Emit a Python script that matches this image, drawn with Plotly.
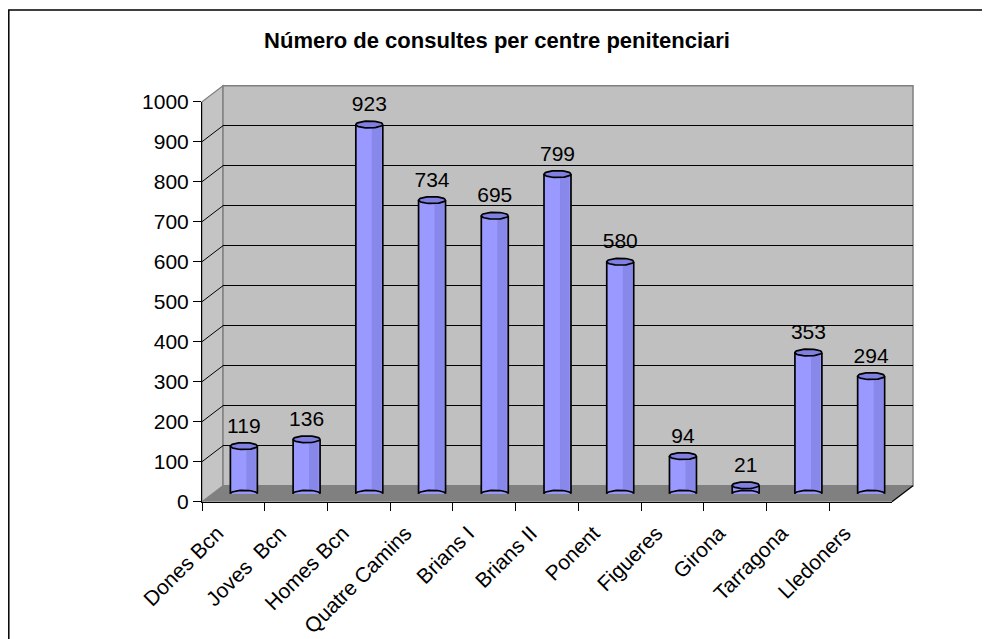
import numpy as np
import plotly.graph_objects as go

# ---------------- data ----------------
categories = ["Dones Bcn", "Joves  Bcn", "Homes Bcn", "Quatre Camins", "Brians I",
              "Brians II", "Ponent", "Figueres", "Girona", "Tarragona", "Lledoners"]
values = [119, 136, 923, 734, 695, 799, 580, 94, 21, 353, 294]
y_ticks = list(range(0, 1001, 100))
title_text = "Número de consultes per centre penitenciari"

# ---------------- geometry (page pixels) ----------------
W, H = 990, 639
OFF = 8   # page body margin
def PX(x): return (x - OFF) / W
def PY(y): return 1 - (y - OFF) / H

FX0, FX1, FY0, FY1 = 202, 892, 501.7, 101.7   # front plane (value 0 .. 1000)
DX, DY = 21, -16                               # depth offset of back wall
MX, MY = DX / 2, DY / 2                        # bars sit at mid-depth

def yf(v): return FY0 + (FY1 - FY0) * v / 1000.0
def yb(v): return yf(v) + DY

idx = np.arange(len(categories))
bw = 0.43            # bar width (category units)
eh = 8.5             # ellipse half-height (value units)
th = np.linspace(0, 2 * np.pi, 49)
LW = 1.7

fig = go.Figure()

fig.add_trace(go.Scatter(x=[0], y=[0], mode="markers", marker=dict(opacity=0),
                         hoverinfo="skip", showlegend=False, xaxis="x", yaxis="y"))
disp_cats = [c.replace("  ", " \u00a0") for c in categories]
fig.add_trace(go.Scatter(x=disp_cats, y=values, mode="markers", marker=dict(opacity=0),
                         hoverinfo="skip", showlegend=False, xaxis="x2", yaxis="y2"))

bx, by = [], []
for i in idx:
    bx += list(i + bw / 2 * np.cos(th)) + [None]
    by += list(0 + eh * np.sin(th)) + [None]
fig.add_trace(go.Scatter(x=bx, y=by, mode="lines", fill="toself", fillcolor="#9999FF",
                         line=dict(color="black", width=LW), hoverinfo="skip",
                         showlegend=False, xaxis="x3", yaxis="y3"))
fig.add_trace(go.Bar(x=idx, y=values, width=bw, marker=dict(color="#9999FF", line=dict(width=0)),
                     hoverinfo="skip", showlegend=False, xaxis="x3", yaxis="y3"))
fig.add_trace(go.Bar(x=idx, y=values, width=0.15, offset=0.04,
                     marker=dict(color="#8888EA", line=dict(width=0)),
                     hoverinfo="skip", showlegend=False, xaxis="x3", yaxis="y3"))
sx, sy = [], []
for i, v in zip(idx, values):
    for s in (-1, 1):
        sx += [i + s * bw / 2, i + s * bw / 2, None]
        sy += [0, v, None]
fig.add_trace(go.Scatter(x=sx, y=sy, mode="lines", line=dict(color="black", width=LW),
                         hoverinfo="skip", showlegend=False, xaxis="x3", yaxis="y3"))
tx, ty = [], []
for i, v in zip(idx, values):
    tx += list(i + bw / 2 * np.cos(th)) + [None]
    ty += list(v + eh * np.sin(th)) + [None]
fig.add_trace(go.Scatter(x=tx, y=ty, mode="lines", fill="toself", fillcolor="#8080E0",
                         line=dict(color="black", width=LW), hoverinfo="skip",
                         showlegend=False, xaxis="x3", yaxis="y3"))
fig.add_trace(go.Scatter(x=idx, y=[v + 20 for v in values], mode="text",
                         text=[str(v) for v in values], textposition="top center",
                         textfont=dict(family="Liberation Sans, Arial", size=21, color="black"),
                         hoverinfo="skip", showlegend=False, xaxis="x3", yaxis="y3"))

def path(pts):
    return "M " + " L ".join(f"{PX(x)},{PY(y)}" for x, y in pts) + " Z"

shapes = []
shapes.append(dict(type="rect", xref="paper", yref="paper", x0=PX(8.8), x1=PX(983),
                   y0=PY(10), y1=-0.02, line=dict(color="black", width=1.5),
                   fillcolor="rgba(0,0,0,0)", layer="below"))
shapes.append(dict(type="path", xref="paper", yref="paper",
                   path=path([(FX0, FY0), (FX0, FY1), (FX0 + DX, FY1 + DY), (FX0 + DX, FY0 + DY)]),
                   fillcolor="#C4C4C4", line=dict(color="#808080", width=1.2), layer="below"))
shapes.append(dict(type="rect", xref="paper", yref="paper",
                   x0=PX(FX0 + DX), x1=PX(FX1 + DX), y0=PY(FY0 + DY), y1=PY(FY1 + DY),
                   fillcolor="#C0C0C0", line=dict(color="#808080", width=1.5), layer="below"))
shapes.append(dict(type="path", xref="paper", yref="paper",
                   path=path([(FX0, FY0), (FX1, FY0), (FX1 + DX, FY0 + DY), (FX0 + DX, FY0 + DY)]),
                   fillcolor="#808080", line=dict(width=0), layer="below"))
shapes.append(dict(type="line", xref="paper", yref="paper", x0=PX(FX1), y0=PY(FY0),
                   x1=PX(FX1 + DX), y1=PY(FY0 + DY), line=dict(color="black", width=1.2),
                   layer="below"))
for v in y_ticks[1:-1]:
    shapes.append(dict(type="line", xref="paper", yref="paper", x0=PX(FX0), y0=PY(yf(v)),
                       x1=PX(FX0 + DX), y1=PY(yb(v)), line=dict(color="black", width=1),
                       layer="below"))

font = dict(family="Liberation Sans, Arial", size=21, color="black")

fig.update_layout(
    width=W, height=H, autosize=False, margin=dict(l=0, r=0, t=0, b=0, pad=0, autoexpand=False),
    paper_bgcolor="white", plot_bgcolor="rgba(0,0,0,0)",
    barmode="overlay", showlegend=False, font=font,
    title=dict(text=title_text, x=PX(497), xanchor="center", y=PY(40), yanchor="middle",
               automargin=False,
               font=dict(family="Liberation Sans, Arial", size=22, color="black", weight="bold")),
    shapes=shapes,
    xaxis=dict(domain=[PX(FX0 + DX), PX(FX1 + DX)], range=[-0.5, 10.5], visible=False,
               anchor="y", fixedrange=True, automargin=False),
    yaxis=dict(domain=[PY(FY0 + DY), PY(FY1 + DY)], range=[0, 1000], anchor="x",
               tickvals=y_ticks[1:-1], showgrid=True, gridcolor="black", gridwidth=1,
               showticklabels=False, ticks="", showline=False, zeroline=False,
               fixedrange=True, automargin=False),
    xaxis2=dict(domain=[PX(FX0), PX(FX1)], type="category", categoryarray=disp_cats,
                range=[-0.5, 10.5], anchor="y2", tickson="boundaries", ticks="outside",
                ticklen=8, tickcolor="black", tickwidth=1, showline=True, linecolor="black",
                linewidth=1, showgrid=False, tickangle=-45, tickfont=font, fixedrange=True,
                automargin=False, ticklabelstandoff=10, ticklabelshift=-16),
    yaxis2=dict(domain=[PY(FY0), PY(FY1)], range=[0, 1000], anchor="x2", tickmode="array",
                tickvals=y_ticks, ticks="outside", ticklen=8, tickcolor="black",
                showline=True, linecolor="black", linewidth=1, showgrid=False,
                zeroline=False, tickfont=font, fixedrange=True, automargin=False),
    xaxis3=dict(domain=[PX(FX0 + MX), PX(FX1 + MX)], range=[-0.5, 10.5], visible=False,
                anchor="y3", fixedrange=True, automargin=False),
    yaxis3=dict(domain=[PY(FY0 + MY), PY(FY1 + MY)], range=[0, 1000], visible=False,
                anchor="x3", fixedrange=True, automargin=False),
)

fig.write_html("out.html")
